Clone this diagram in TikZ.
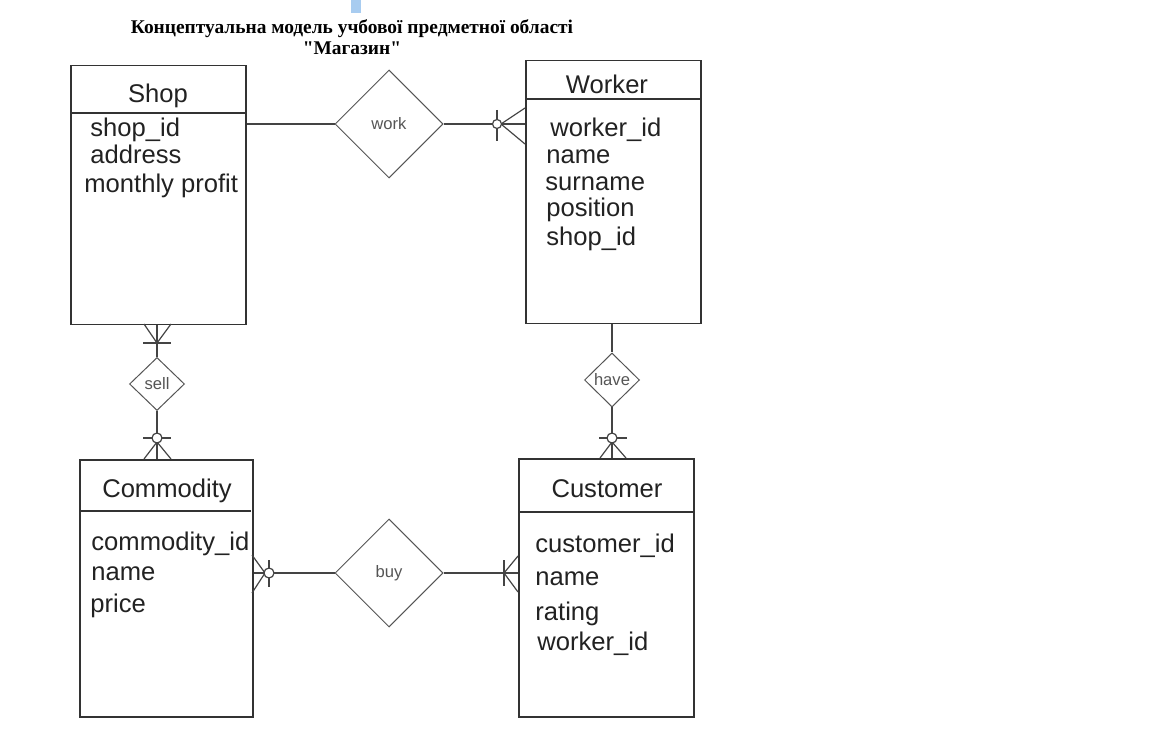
\documentclass[tikz,border=0pt]{standalone}
\usepackage{fontspec}
\setmainfont{Liberation Sans}
\newfontfamily\titlefont{Liberation Serif}
\usetikzlibrary{shapes.geometric}
\definecolor{boxgray}{HTML}{333333}
\definecolor{diagray}{HTML}{555555}
\definecolor{linkgray}{HTML}{444444}
\definecolor{labelgray}{HTML}{555555}
\definecolor{textblack}{HTML}{222222}
\definecolor{markblue}{HTML}{A8CCF0}

\begin{document}
\begin{tikzpicture}[x=0.5pt, y=-0.5pt,
  entity/.style={draw=boxgray, line width=0.75pt, anchor=north west, inner sep=0pt},
  divider/.style={draw=boxgray, line width=0.75pt},
  relation/.style={diamond, draw=diagray, line width=0.5pt, aspect=1, inner sep=0pt,
    text=labelgray, font=\fontsize{8.3}{10}\selectfont},
  head/.style={inner sep=0pt, yshift=-1.5pt, text=textblack, font=\fontsize{12.8}{15}\selectfont},
  attr/.style={anchor=west, inner sep=0pt, text height=11pt, text depth=1.5pt,
    text=textblack, font=\fontsize{12.8}{15}\selectfont},
  link/.style={draw=linkgray, line width=0.7pt},
  foot/.style={draw=linkgray, line width=0.6pt}]
  \useasboundingbox (0,0) rectangle (1152,743);
  \fill[markblue] (351,0) rectangle (361,13);
  \node[font=\titlefont\bfseries\fontsize{9.7}{10.5}\selectfont, align=center, inner sep=0pt]
    (title) at (352,37) {Концептуальна модель учбової предметної області\\"Магазин"};

  \node[entity, minimum width=87.5pt, minimum height=129.5pt] (shop) at (70,65) {};
  \node[entity, minimum width=87.5pt, minimum height=131.5pt] (worker) at (525,60) {};
  \node[entity, minimum width=86.5pt, minimum height=128.5pt] (commodity) at (79,459) {};
  \node[entity, minimum width=87.5pt, minimum height=129pt] (customer) at (518,458) {};
  \draw[divider] (70,113) -- (245,113);
  \draw[divider] (525,99) -- (700,99);
  \draw[divider] (79,511) -- (251,511);
  \draw[divider] (518,512) -- (693,512);

  \node[head] (shoptitle) at (158,93) {Shop};
  \node[attr] (shopid) at (90,127) {shop\_id};
  \node[attr] (shopaddress) at (90,154) {address};
  \node[attr] (shopprofit) at (84,183) {monthly profit};

  \node[head] (workertitle) at (607,81) {Worker};
  \node[attr] (workerid) at (550,127) {worker\_id};
  \node[attr] (workername) at (546,154) {name};
  \node[attr] (workersurname) at (545,181) {surname};
  \node[attr] (workerposition) at (546,207) {position};
  \node[attr] (workershop) at (546,236) {shop\_id};

  \node[head] (commoditytitle) at (167,488) {Commodity};
  \node[attr] (commodityid) at (91,541) {commodity\_id};
  \node[attr] (commodityname) at (91,571) {name};
  \node[attr] (commodityprice) at (90,603) {price};

  \node[head] (customertitle) at (607,486) {Customer};
  \node[attr] (customerid) at (535,543) {customer\_id};
  \node[attr] (customername) at (535,576) {name};
  \node[attr] (customerrating) at (535,611) {rating};
  \node[attr] (customerworker) at (537,641) {worker\_id};

  \node[relation, minimum width=54pt, minimum height=54pt] (work) at (389,124) {work};
  \node[relation, minimum width=54pt, minimum height=54pt] (buy) at (389,573) {buy};
  \node[relation, minimum width=27.5pt, minimum height=26.5pt] (sell) at (157,384) {sell};
  \node[relation, minimum width=27.5pt, minimum height=27pt] (have) at (612,380) {have};

  \draw[link] (shop.east |- work.west) -- (work.west);
  \draw[link] (work.east) -- (work.east -| worker.west);
  \draw[link] (sell.north |- shop.south) -- (sell.north);
  \draw[link] (sell.south) -- (sell.south |- commodity.north);
  \draw[link] (have.north |- worker.south) -- (have.north);
  \draw[link] (have.south) -- (have.south |- customer.north);
  \draw[link] (buy.west) -- (buy.west -| commodity.east);
  \draw[link] (buy.east) -- (buy.east -| customer.west);

  \draw[foot] (497,110) -- (497,141);
  \draw[foot] (525,108) -- (501,124) -- (525,144);
  \draw[foot, fill=white] (497,124) circle[radius=2.25pt];

  \draw[foot] (143,343) -- (171,343);
  \draw[foot] (144,324) -- (157,343) -- (171,324);

  \draw[foot] (143,438) -- (171,438);
  \draw[foot] (144,459) -- (157,442) -- (171,459);
  \draw[foot, fill=white] (157,438) circle[radius=2.5pt];

  \draw[foot] (599,438) -- (627,438);
  \draw[foot] (600,458) -- (612,442) -- (626,458);
  \draw[foot, fill=white] (612,438) circle[radius=2.5pt];

  \draw[foot] (269,560) -- (269,587);
  \draw[foot] (252,555) -- (265,573) -- (252,593);
  \draw[foot, fill=white] (269,573) circle[radius=2.5pt];

  \draw[foot] (504,560) -- (504,586);
  \draw[foot] (518,556) -- (504,573) -- (518,592);
\end{tikzpicture}
\end{document}
